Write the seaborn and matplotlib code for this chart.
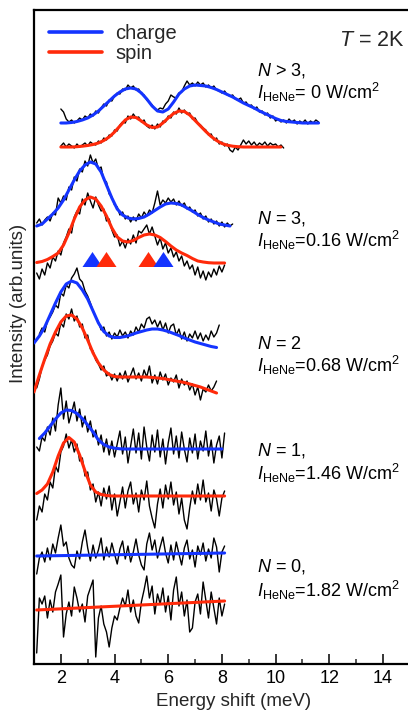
import numpy as np
import pandas as pd
import matplotlib
matplotlib.use("Agg")
import matplotlib.pyplot as plt
import seaborn as sns
from matplotlib.lines import Line2D
from matplotlib.ticker import MultipleLocator

sns.set_theme(style="white")
plt.rcParams["font.family"] = ["Liberation Sans", "DejaVu Sans"]
plt.rcParams["mathtext.fontset"] = "custom"
plt.rcParams["mathtext.rm"] = "Liberation Sans"
plt.rcParams["mathtext.it"] = "Liberation Sans:italic"
plt.rcParams["mathtext.bf"] = "Liberation Sans:bold"

BLUE = "#1434ff"
RED = "#ff2a0a"

# ---------------------------------------------------------------- data
# measured spectra, sampled every 0.1 meV (arb. units above each trace baseline)
RAW_STEP = 0.1

raw_n4_charge = [14, 11, 4, 1, 3, 0, 2, 5, 3, 7, 5, 9, 7, 12, 10, 15, 19, 17, 23, 22,
                 27, 30, 29, 34, 33, 38, 35, 37, 33, 34, 29, 28, 23, 21, 18, 14, 13, 15, 14, 19,
                 22, 28, 26, 25, 30, 31, 37, 42, 38, 40, 37, 41, 38, 40, 36, 38, 35, 37, 33, 32,
                 30, 32, 28, 27, 28, 24, 23, 25, 20, 21, 17, 18, 14, 16, 11, 12, 8, 10, 5, 7,
                 2, 4, 1, 3, 0, 4, 1, 3, -1, 2, 0, 3, -1, 2, 0, 3, 1]
raw_n4_spin = [1, 4, 0, 3, 1, -1, 3, 0, 2, 4, 1, 5, 3, 2, 6, 4, 9, 7, 12, 11,
               17, 16, 22, 25, 24, 31, 28, 33, 29, 30, 25, 27, 21, 19, 22, 18, 23, 20, 26, 25,
               31, 29, 35, 33, 39, 34, 37, 33, 34, 28, 29, 24, 22, 19, 17, 12, 13, 7, 9, 3,
               5, 1, 3, -3, -5, 0, -3, 2, 7, 3, 6, 2, 5, 1, 4, 2, 5, 1, 4, 2, 3, 0, 2, -1]
raw_n3_charge = [4, 8, 2, 7, 10, 6, 14, 12, 29, 24, 31, 27, 40, 37, 50, 46, 58, 55, 66, 61,
                 72, 64, 68, 58, 60, 47, 45, 33, 30, 22, 20, 12, 15, 8, 11, 5, 10, 6, 13, 9,
                 15, 11, 17, 14, 24, 36, 22, 27, 24, 29, 25, 28, 22, 26, 21, 24, 18, 20, 15, 17,
                 11, 14, 8, 11, 5, 8, 3, 6, 1, 5, 0, 4, 1, 3]
raw_n3_spin = [-10, -16, -6, -12, 0, -5, 6, 2, 12, 8, 20, 26, 34, 30, 46, 52, 49, 64, 58, 70,
               62, 55, 66, 58, 52, 54, 42, 44, 33, 26, 28, 17, 22, 15, 24, 19, 28, 20, 32, 30,
               34, 38, 29, 36, 27, 18, 25, 14, 20, 10, 15, 6, 11, 2, 7, -3, 2, -6, -2, -12,
               -4, -15, -8, -17, -9, -14, -6, -12, -3, -9, -2]
raw_n2_charge = [14, 20, 16, 27, 31, 36, 43, 40, 55, 52, 63, 60, 70, 74, 80, 69, 66, 57, 52, 45,
                 37, 31, 26, 18, 21, 12, 16, 9, 15, 11, 18, 12, 16, 10, 17, 13, 21, 16, 24, 20,
                 29, 31, 24, 28, 21, 27, 18, 25, 15, 22, 24, 13, 19, 9, 16, 7, 14, 10, 17, 9,
                 15, 7, 13, 8, 17, 11, 15, 23]
raw_n2_spin = [5, 14, 26, 33, 38, 47, 52, 60, 57, 70, 66, 79, 74, 84, 72, 77, 66, 69, 55, 58,
               44, 42, 33, 29, 23, 27, 17, 20, 13, 19, 12, 20, 14, 22, 11, 18, 25, 14, 20, 12,
               23, 16, 27, 10, 18, 9, 21, 13, 19, 8, 15, 11, 18, 5, 14, 8, 12, 3, 9, -2,
               6, -7, 4, 1, 8, 2, 6, 12]
raw_n1_charge = [2, -2, 12, 8, 22, 14, 31, 18, 44, 61, 30, 48, 26, 36, 47, 28, 40, 22, 33, 17,
                 28, 12, 19, 4, 14, -3, 10, -6, 8, -8, 5, 18, -5, 12, -14, 3, 20, -4, 16, -10,
                 22, 2, -12, 14, -3, 19, -8, 10, -15, 6, 21, -5, 13, -9, 17, 0, -13, 11, -4, 15,
                 -10, 8, -2, 18, -7, 9, -14, 4, 13, -9, 16]
raw_n1_spin = [-24, -10, -16, 2, -4, 14, 8, 30, 24, 44, 50, 62, 48, 56, 44, 52, 35, 38, 20, 24,
               6, 12, -6, 4, -10, 8, -3, 10, -14, 2, -20, -6, 9, -12, 5, 14, -8, 3, -16, 6,
               -4, 15, -10, -22, -32, -8, 7, -12, 11, -3, 14, -9, 4, -18, -2, -24, -33, -12, 5, -8,
               12, -4, 16, -6, 3, -15, 6, -3, -20, -2, 5]
raw_n0_charge = [-18, -2, 4, -6, 8, -4, 12, 3, 18, 31, 10, 14, -2, -9, -12, 5, -3, 14, 26, 8,
                 -5, 11, -2, 6, 18, -4, 9, -1, 13, 2, -8, 7, 15, -3, 10, -6, 4, 17, 1, -9,
                 -14, 12, 23, 6, 16, -2, 9, 19, 3, -7, 11, -4, 14, 2, -9, 8, 16, -3, 6, -11,
                 10, 1, 13, -5, 7, -2, 18, 9, -16, 4, 10]
raw_n0_spin = [-43, 12, 6, 14, -8, 10, -2, 18, 26, 35, -27, -4, 8, -6, 23, 12, -2, 6, -12, 14,
               22, 30, -47, -8, 4, -14, -22, -37, -18, -6, -10, 2, 12, 4, 20, -2, 10, -6, -13, 8,
               20, 34, 12, 24, -4, 16, 6, 22, -2, 14, -10, 20, 33, 4, 18, -6, 10, -22, -18, 8,
               16, -4, 28, 10, -8, 18, 2, -14, 12, -6, 6]

# fitted lineshapes (same units)
fit_n4_charge = [0, 0, 0.5, 1.5, 3, 5, 8, 12, 17, 22, 27, 31, 34, 35, 34, 30, 24, 17, 12, 11,
                 14, 21, 29, 34, 37, 38, 37.5, 37, 35.5, 33.5, 31, 28.5, 26, 23, 20, 17.5, 15, 12,
                 9.5, 7, 4.5, 2.5, 1.5, 1, 0.5, 0, 0, 0, 0]
fit_n4_spin = [0, 0, 0, 0.3, 0.8, 1.5, 2.5, 4, 6.5, 10, 15, 21, 27, 30, 29.5, 26, 22, 19.5,
               20, 24, 29, 33.5, 36, 35.5, 32, 26.5, 21, 15.5, 10.5, 6.5, 3.5, 1.8, 0.8, 0.3,
               0, 0, 0, 0, 0, 0, 0, 0]
fit_n3_charge = [1, 3, 8, 13, 19, 27, 37, 47, 56, 62, 65, 63, 55, 42, 29, 18, 12, 9, 8, 8.5,
                 10, 13, 16.5, 20, 23, 24, 23.5, 22, 19, 16, 12.5, 9.5, 7, 5, 3, 2, 1]
fit_n3_spin = [0.5, 1.5, 3.5, 6.5, 10, 18, 30, 44, 56, 63, 66, 64, 57, 47, 35, 26, 22, 21,
               22.5, 25.5, 28, 29, 28, 25.5, 21.5, 17, 13, 10, 7.5, 4.5, 2, 1, 0.3, 0, 0, 0]
fit_n2_charge = [5, 12, 21, 33, 45, 56, 64, 67, 65, 58, 49, 37, 25, 16.5, 12, 10.5, 10.5, 11.5,
                 13, 15, 16.5, 18, 19, 19, 18, 16.5, 14.5, 12.5, 10, 8, 6, 4.5, 3, 1.5, 0.5]
fit_n2_spin = [1, 18, 34, 49, 61, 71, 77, 78, 74, 65, 53, 40, 30, 23, 18.5, 16.5, 16, 16, 16,
               16, 16, 16, 15.5, 15, 14.5, 13.5, 12.5, 11.5, 10.5, 9, 7.5, 6, 4, 2, 0]
fit_n1_charge = [10.5, 16, 23, 30, 36, 39, 38.5, 35.5, 30.5, 24, 17, 9, 4.5, 2, 0.8, 0.2, 0, 0,
                 0, 0, 0, 0, 0, 0, 0, 0, 0, 0, 0, 0, 0, 0, 0, 0, 0]
fit_n1_spin = [2.5, 6, 12, 24, 40, 53, 58.5, 54, 41, 25, 11, 4, 1.5, 0.5, 0, 0, 0, 0, 0, 0,
               0, 0, 0, 0, 0, 0, 0, 0, 0, 0, 0, 0, 0, 0, 0, 0]
fit_n0_charge = [0, 3]
fit_n0_spin = [0, 9]

trace_mode = ["charge", "spin"] * 5
raw_starts = [2.0, 2.0, 1.1, 1.1, 1.2, 1.1, 1.1, 1.1, 1.1, 1.1]
fit_starts = [2.0, 2.0, 1.1, 1.1, 1.0, 1.0, 1.2, 1.1, 1.1, 1.1]
fit_steps = [0.2, 0.2, 0.2, 0.2, 0.2, 0.2, 0.2, 0.2, 7.0, 7.0]

# peak positions of the N = 3 spectra (meV)
peak_energies = [3.16, 3.69, 5.26, 5.82]
peak_modes = ["charge", "spin", "spin", "charge"]

condition_n = [r"$\mathit{N}$ > 3,", r"$\mathit{N}$ = 3,", r"$\mathit{N}$ = 2",
               r"$\mathit{N}$ = 1,", r"$\mathit{N}$ = 0,"]
condition_i = [r"$\mathit{I}_{\mathrm{HeNe}}$= 0 W/cm$^{2}$",
               r"$\mathit{I}_{\mathrm{HeNe}}$=0.16 W/cm$^{2}$",
               r"$\mathit{I}_{\mathrm{HeNe}}$=0.68 W/cm$^{2}$",
               r"$\mathit{I}_{\mathrm{HeNe}}$=1.46 W/cm$^{2}$",
               r"$\mathit{I}_{\mathrm{HeNe}}$=1.82 W/cm$^{2}$"]

# ---------------------------------------------------------------- layout
trace_offsets = [541, 517, 437, 401, 316, 271, 215, 168, 108, 54]
label_rows = [(588, 565), (440, 417), (315, 292), (209, 184), (92, 67)]

raws = [raw_n4_charge, raw_n4_spin, raw_n3_charge, raw_n3_spin, raw_n2_charge,
        raw_n2_spin, raw_n1_charge, raw_n1_spin, raw_n0_charge, raw_n0_spin]
fits = [fit_n4_charge, fit_n4_spin, fit_n3_charge, fit_n3_spin, fit_n2_charge,
        fit_n2_spin, fit_n1_charge, fit_n1_spin, fit_n0_charge, fit_n0_spin]

raw_rows, fit_rows = [], []
for k in range(len(raws)):
    e = raw_starts[k] + RAW_STEP * np.arange(len(raws[k]))
    raw_rows.append(pd.DataFrame({"energy": e, "intensity": np.array(raws[k]) + trace_offsets[k],
                                  "trace": k}))
    e = fit_starts[k] + fit_steps[k] * np.arange(len(fits[k]))
    fit_rows.append(pd.DataFrame({"energy": e, "intensity": np.array(fits[k]) + trace_offsets[k],
                                  "trace": k, "mode": trace_mode[k]}))
raw_df = pd.concat(raw_rows, ignore_index=True)
fit_df = pd.concat(fit_rows, ignore_index=True)

# ---------------------------------------------------------------- figure
fig = plt.figure(figsize=(4.08, 7.11), dpi=100)
ax = fig.add_axes([34 / 408, 47 / 711, 400 / 408, 654 / 711])

sns.lineplot(data=raw_df, x="energy", y="intensity", units="trace", estimator=None,
             sort=False, color="black", lw=1.0, ax=ax, zorder=2)
sns.lineplot(data=fit_df, x="energy", y="intensity", units="trace", estimator=None,
             sort=False, hue="mode", palette={"charge": BLUE, "spin": RED}, lw=2.2,
             ax=ax, legend=False, zorder=3)

tri = [(-1, -0.75), (1, -0.75), (0, 0.75)]
for e, m in zip(peak_energies, peak_modes):
    ax.plot([e], [405.5], marker=tri, markersize=14.4, linestyle="none",
            color=BLUE if m == "charge" else RED, markeredgewidth=0, zorder=4)

for (yn, yi), tn, ti in zip(label_rows, condition_n, condition_i):
    ax.text(9.31, yn, tn, fontsize=13, va="baseline", ha="left", color="black")
    ax.text(9.31, yi, ti, fontsize=13, va="baseline", ha="left", color="black")
ax.text(12.36, 618, r"$\mathit{T}$ = 2K", fontsize=15.5, va="baseline", ha="left")

handles = [Line2D([], [], color=BLUE, lw=2.6), Line2D([], [], color=RED, lw=2.6)]
ax.legend(handles, ["charge", "spin"], loc="upper left", bbox_to_anchor=(0.0375, 0.979),
          frameon=False, fontsize=14.5, handlelength=2.65, handletextpad=0.65,
          labelspacing=0.05, borderpad=0, borderaxespad=0)

ax.set_xlim(1, 15.9)
ax.set_ylim(0, 654)
ax.set_xlabel("")
ax.set_ylabel("")
ax.set_yticks([])
ax.xaxis.set_major_locator(MultipleLocator(2))
ax.xaxis.set_minor_locator(MultipleLocator(1))
ax.tick_params(axis="x", which="major", direction="in", length=7.2, width=1.1,
               labelsize=13, pad=4.5, colors="black", bottom=True, top=False)
ax.tick_params(axis="x", which="minor", direction="in", length=3.6, width=1.1,
               bottom=True, top=False)
for side in ["left", "bottom", "top"]:
    ax.spines[side].set_visible(True)
    ax.spines[side].set_color("black")
    ax.spines[side].set_linewidth(1.6)
ax.spines["right"].set_visible(False)
ax.grid(False)

fig.text(18.5 / 408, 1 - 303 / 711, "Intensity (arb.units)", rotation=90,
         ha="center", va="center", fontsize=13.5)
fig.text(234 / 408, 4.5 / 711, "Energy shift (meV)", ha="center", va="baseline",
         fontsize=13.5)

fig.savefig("out.png", dpi=100)
